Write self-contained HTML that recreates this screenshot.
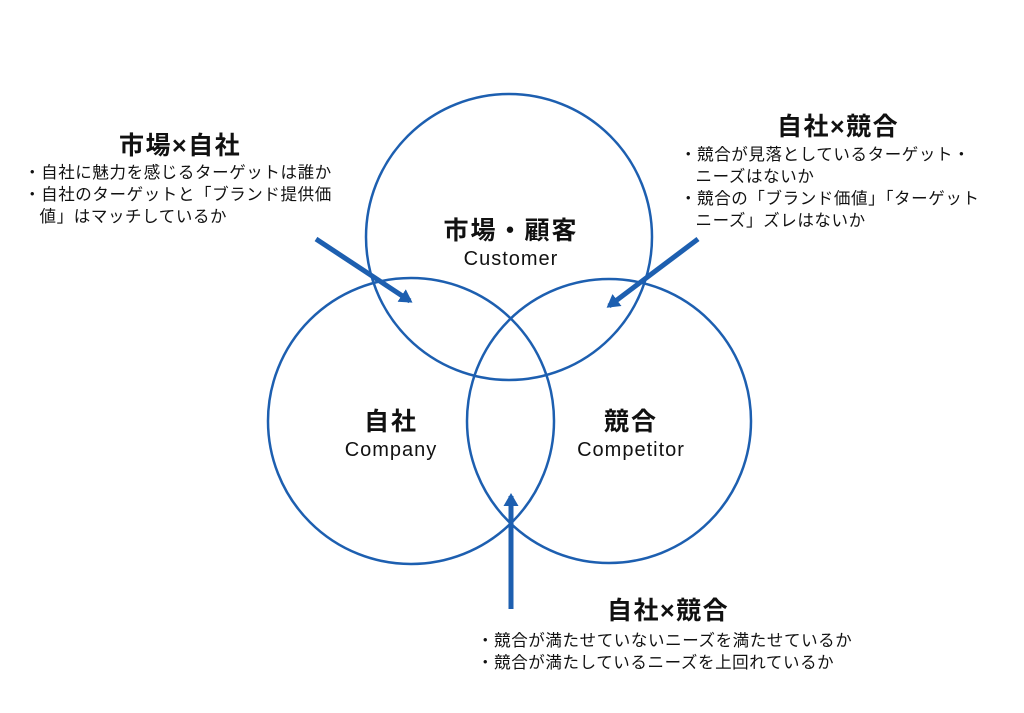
<!DOCTYPE html>
<html><head><meta charset="utf-8"><style>
body{margin:0;width:1024px;height:713px;background:#fff;overflow:hidden;position:relative;font-family:"Liberation Sans","Noto Sans CJK JP",sans-serif;color:#111}
.t{position:absolute;white-space:nowrap}
.h{font-weight:bold;font-size:25px;letter-spacing:1.5px;line-height:30px}
.s{font-size:16.5px;line-height:22px;letter-spacing:0.6px}
.c{text-align:center;font-weight:bold;font-size:25px;line-height:30px;letter-spacing:2px}
.c span{display:block;font-weight:normal;font-size:20px;line-height:26px;letter-spacing:1px}
</style></head><body>
<svg width="1024" height="713" style="position:absolute;left:0;top:0">
<defs><marker id="a" markerWidth="4" markerHeight="4" refX="2" refY="2" orient="auto" markerUnits="strokeWidth"><path d="M0,0.5 L2.6,2 L0,3.5z" fill="#1d5fb0"/></marker></defs>
<g fill="none" stroke="#1d5fb0" stroke-width="2.5">
<circle cx="509" cy="237" r="143"/>
<circle cx="411" cy="421" r="143"/>
<circle cx="609" cy="421" r="142"/>
</g>
<g stroke="#1d5fb0" stroke-width="5" marker-end="url(#a)">
<line x1="316" y1="239" x2="410" y2="301"/>
<line x1="698" y1="239" x2="609" y2="306"/>
<line x1="511" y1="609" x2="511" y2="496"/>
</g>
</svg>
<div class="t c" style="left:391px;top:216px;width:240px">市場・顧客<span>Customer</span></div>
<div class="t c" style="left:271px;top:407px;width:240px">自社<span>Company</span></div>
<div class="t c" style="left:511px;top:407px;width:240px">競合<span>Competitor</span></div>
<div class="t h" style="left:119px;top:131px">市場×自社</div>
<div class="t s" style="left:24px;top:162px">・自社に魅力を感じるターゲットは誰か<br>・自社のターゲットと「ブランド提供価<br>&nbsp;&nbsp;&nbsp;値」はマッチしているか</div>
<div class="t h" style="left:777px;top:112px">自社×競合</div>
<div class="t s" style="left:680px;top:144px">・競合が見落としているターゲット・<br>&nbsp;&nbsp;&nbsp;ニーズはないか<br>・競合の「ブランド価値」「ターゲット<br>&nbsp;&nbsp;&nbsp;ニーズ」ズレはないか</div>
<div class="t h" style="left:607px;top:596px">自社×競合</div>
<div class="t s" style="left:477px;top:630px">・競合が満たせていないニーズを満たせているか<br>・競合が満たしているニーズを上回れているか</div>
</body></html>
